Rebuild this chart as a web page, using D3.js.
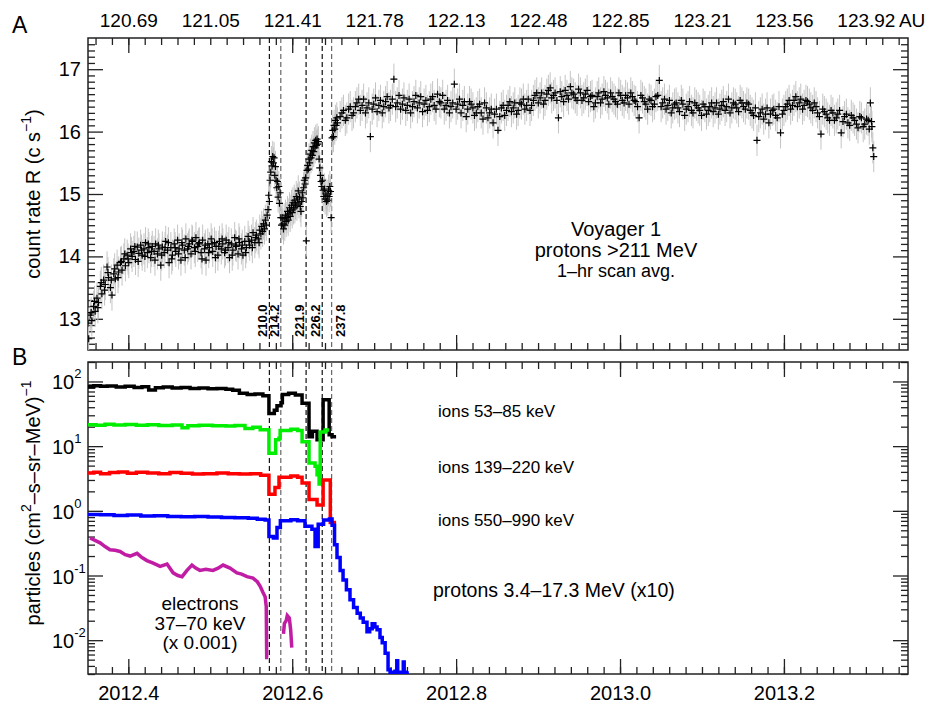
<!DOCTYPE html>
<html>
<head>
<meta charset="utf-8">
<script src="https://cdn.jsdelivr.net/npm/d3@7"></script>
<style>
  body { margin: 0; background: #fff; }
  text { font-family: "Liberation Sans", Arial, Helvetica, sans-serif; fill: #000; }
</style>
</head>
<body>
<svg width="928" height="706"></svg>
<script>
// ---- data (days counted from 2012 Jan 0) ----
const rateData = [
  [128.4,12.93],[128.7,12.68],[129.4,13.06],[130.1,12.97],[130.9,13.20],[131.6,13.12],[132.4,13.33],[133.1,13.26],
  [133.9,13.52],[134.6,13.40],[135.4,13.62],[136.1,13.55],[136.9,13.83],[137.6,13.66],[138.4,13.50],[139.1,13.38],
  [139.9,13.72],[140.6,13.64],[141.4,13.86],[142.1,13.75],[142.9,13.90],[143.6,13.78],[144.4,13.96],[145.1,13.85],
  [145.9,14.02],[146.6,13.90],[147.4,14.12],[148.1,14.00],[148.9,14.08],[149.6,13.95],[150.4,14.15],[151.1,14.05],
  [151.9,14.18],[152.6,14.02],[153.4,14.12],[154.1,14.22],[154.9,14.06],[155.6,14.14],[156.4,13.98],[157.1,14.16],
  [157.9,14.08],[158.6,14.20],[159.4,14.04],[160.1,14.12],[160.9,13.86],[161.6,14.15],[162.4,14.06],[163.1,14.24],
  [163.9,14.10],[164.6,13.90],[165.4,14.14],[166.1,14.02],[166.9,14.20],[167.6,14.08],[168.4,14.26],[169.1,14.12],
  [169.9,13.94],[170.6,14.18],[171.4,14.10],[172.1,14.28],[172.9,14.12],[173.6,14.20],[174.4,14.04],[175.1,14.24],
  [175.9,14.14],[176.6,14.30],[177.4,14.16],[178.1,14.22],[178.9,14.06],[179.6,14.26],[180.4,14.12],[181.1,13.94],
  [181.9,14.20],[182.6,14.14],[183.4,14.28],[184.1,14.08],[184.9,14.22],[185.6,14.16],[186.4,14.02],[187.1,14.24],
  [187.9,14.12],[188.6,14.20],[189.4,14.06],[190.1,14.26],[190.9,14.14],[191.6,13.98],[192.4,14.20],[193.1,14.10],
  [193.9,14.30],[194.6,14.16],[195.4,14.04],[196.1,14.22],[196.9,14.12],[197.6,14.02],[198.4,14.24],[199.1,14.14],
  [199.9,14.32],[200.6,14.18],[201.4,14.26],[202.1,14.38],[202.9,14.22],[203.6,14.34],[204.4,14.28],[205.1,14.42],
  [205.6,14.36],[206.0,14.48],[206.4,14.40],[206.8,14.52],[207.2,14.44],[207.6,14.58],[208.0,14.50],[208.4,14.66],
  [208.8,14.75],[209.1,14.98],[209.4,14.88],[209.7,15.22],[210.0,15.35],[210.3,15.52],[210.6,15.45],[210.9,15.60],
  [211.2,15.50],[211.5,15.58],[211.8,15.30],[212.1,15.44],[212.4,15.22],[212.7,15.10],[213.0,15.20],[213.3,14.95],
  [213.6,15.12],[213.9,14.85],[214.2,15.02],[214.5,14.62],[214.8,14.50],[215.1,14.62],[215.4,14.52],[215.7,14.44],
  [216.0,14.60],[216.3,14.50],[216.6,14.66],[216.9,14.56],[217.2,14.62],[217.5,14.72],[217.8,14.58],[218.1,14.68],
  [218.4,14.78],[218.7,14.64],[219.0,14.74],[219.3,14.82],[219.6,14.70],[219.9,14.86],[220.2,14.76],[220.5,14.90],
  [220.8,14.78],[221.1,14.84],[221.4,14.96],[221.7,14.82],[222.0,14.92],[222.3,15.05],[222.6,14.86],[222.9,14.95],
  [223.2,14.80],[223.5,14.72],[223.8,14.88],[224.1,15.02],[224.4,14.94],[224.7,15.10],[225.0,15.22],[225.3,15.16],
  [225.6,15.26],[225.9,14.25],[226.2,15.38],[226.5,15.46],[226.8,15.40],[227.1,15.56],[227.4,15.50],[227.7,15.64],
  [228.0,15.58],[228.3,15.70],[228.6,15.62],[228.9,15.76],[229.2,15.68],[229.5,15.82],[229.8,15.74],[230.1,15.86],
  [230.4,15.78],[230.7,15.88],[231.0,15.80],[231.3,15.84],[231.6,15.56],[231.9,15.42],[232.2,15.30],[232.5,15.20],
  [232.8,15.12],[233.1,15.22],[233.4,15.06],[233.7,14.96],[234.0,15.08],[234.3,14.92],[234.6,15.00],[234.9,14.88],
  [235.2,14.98],[235.5,14.90],[235.8,15.06],[236.1,14.96],[236.4,15.12],[236.7,15.04],[237.0,14.62],[237.4,15.90],
  [237.7,16.02],[238.0,15.92],[238.3,16.10],[238.6,16.04],[238.9,16.18],[239.2,16.10],[239.5,16.22],[239.8,16.14],
  [241.0,16.24],[242.5,16.34],[244.0,16.22],[245.5,16.40],[247.0,16.30],[248.5,16.46],[250.0,16.34],[251.5,16.52],
  [253.0,16.38],[254.5,15.92],[256.0,16.44],[257.5,16.32],[259.0,16.50],[260.5,16.40],[262.0,16.56],[263.5,16.42],
  [265.0,16.84],[266.5,16.46],[268.0,16.36],[269.5,16.54],[271.0,16.42],[272.5,16.30],[274.0,16.48],[275.5,16.38],
  [277.0,16.56],[278.5,16.44],[280.0,16.34],[281.5,16.52],[283.0,16.42],[284.5,16.60],[286.0,16.46],[287.5,16.36],
  [289.0,16.50],[290.5,16.40],[292.0,16.76],[293.5,16.44],[295.0,16.30],[296.5,16.48],[298.0,16.36],[299.5,16.44],
  [301.0,16.26],[302.5,16.40],[304.0,16.30],[305.5,16.46],[307.0,16.22],[308.5,16.36],[310.0,16.28],[311.5,16.02],
  [313.0,16.38],[314.5,16.26],[316.0,16.42],[317.5,16.32],[319.0,16.46],[320.5,16.34],[322.0,16.44],[323.5,16.36],
  [325.0,16.52],[326.5,16.42],[328.0,16.58],[329.5,16.46],[331.0,16.62],[332.5,16.50],[334.0,16.66],[335.5,16.54],
  [337.0,16.62],[338.5,16.22],[340.0,16.56],[341.5,16.66],[343.0,16.52],[344.5,16.62],[346.0,16.54],[347.5,16.68],
  [349.0,16.50],[350.5,16.60],[352.0,16.48],[353.5,16.58],[355.0,16.46],[356.5,16.62],[358.0,16.52],[359.5,16.58],
  [361.0,16.44],[362.5,16.56],[364.0,16.48],[365.5,16.62],[367.0,16.50],[368.5,16.58],[370.0,16.44],[371.5,16.56],
  [373.0,16.48],[374.5,16.22],[376.0,16.54],[377.5,16.44],[379.0,16.52],[380.5,16.40],[382.0,16.56],[383.5,16.82],
  [385.0,16.46],[386.5,16.36],[388.0,16.50],[389.5,16.38],[391.0,16.46],[392.5,16.32],[394.0,16.44],[395.5,16.36],
  [397.0,16.48],[398.5,16.30],[400.0,16.42],[401.5,16.34],[403.0,16.44],[404.5,16.28],[406.0,16.40],[407.5,16.32],
  [409.0,16.46],[410.5,16.36],[412.0,16.48],[413.5,16.40],[415.0,16.30],[416.5,16.46],[418.0,16.38],[419.5,16.50],
  [421.0,16.40],[422.5,16.46],[424.0,16.34],[425.5,16.26],[427.0,15.86],[428.5,16.30],[430.0,16.20],[431.5,16.38],
  [433.0,16.28],[434.5,16.36],[436.0,16.22],[437.5,15.98],[439.0,16.34],[440.5,16.44],[442.0,16.36],[443.5,16.50],
  [445.0,16.40],[446.5,16.52],[448.0,16.42],[449.5,16.48],[451.0,16.38],[452.5,16.46],[454.0,16.30],[455.5,15.96],
  [457.0,16.32],[458.5,16.22],[460.0,16.34],[461.5,16.18],[463.0,16.28],[464.5,15.98],[466.0,16.24],[467.5,16.14],
  [469.0,16.26],[470.5,16.18],[472.0,16.06],[473.5,16.22],[475.0,16.12],[476.5,16.18],[477.5,16.46],[478.2,16.08],
  [478.6,15.74],[479.0,15.60],
  // interleaved scans
  [129.8,13.10],[131.3,13.28],[132.8,13.18],[134.3,13.58],[135.8,13.46],[137.3,13.74],[138.8,13.62],[140.3,13.80],
  [141.8,13.66],[143.3,13.92],[144.8,14.04],[146.3,13.96],[147.8,14.06],[149.3,14.16],[150.8,13.92],[152.3,14.10],
  [153.8,14.00],[155.3,14.20],[156.8,14.08],[158.3,13.94],[159.8,14.18],[161.3,14.02],[162.8,14.14],[164.3,14.22],
  [165.8,13.96],[167.3,14.14],[168.8,14.04],[170.3,14.22],[171.8,13.98],[173.3,14.16],[174.8,14.26],[176.3,14.08],
  [177.8,14.20],[179.3,13.96],[180.8,14.18],[182.3,14.06],[183.8,14.20],[185.3,13.98],[186.8,14.16],[188.3,14.28],
  [189.8,14.10],[191.3,14.22],[192.8,14.02],[194.3,14.18],[195.8,14.28],[197.3,14.18],[198.8,14.06],[200.3,14.24],
  [201.8,14.14],[203.3,14.30],[204.8,14.22],
  [241.8,16.30],[243.3,16.18],[244.8,16.36],[246.3,16.26],[247.8,16.40],[249.3,16.52],[250.8,16.42],[252.3,16.30],
  [253.8,16.46],[255.3,16.36],[256.8,16.54],[258.3,16.42],[259.8,16.30],[261.3,16.48],[262.8,16.38],[264.3,16.52],
  [265.8,16.40],[267.3,16.58],[268.8,16.44],[270.3,16.34],[271.8,16.52],[273.3,16.40],[274.8,16.58],[276.3,16.46],
  [277.8,16.32],[279.3,16.50],[280.8,16.40],[282.3,16.56],[283.8,16.36],[285.3,16.48],[286.8,16.58],[288.3,16.42],
  [289.8,16.30],[291.3,16.46],[292.8,16.36],[294.3,16.52],[295.8,16.42],[297.3,16.24],[298.8,16.48],[300.3,16.38],
  [301.8,16.30],[303.3,16.44],[304.8,16.20],[306.3,16.38],[307.8,16.30],[309.3,16.14],[310.8,16.36],[312.3,16.24],
  [313.8,16.42],[315.3,16.34],[316.8,16.48],[318.3,16.38],[319.8,16.28],[321.3,16.46],[322.8,16.52],[324.3,16.42],
  [325.8,16.34],[327.3,16.50],[328.8,16.62],[330.3,16.54],[331.8,16.44],[333.3,16.60],[334.8,16.70],[336.3,16.58],
  [337.8,16.50],[339.3,16.64],[340.8,16.48],[342.3,16.58],[343.8,16.72],[345.3,16.60],[346.8,16.50],[348.3,16.62],
  [349.8,16.54],[351.3,16.66],[352.8,16.56],[354.3,16.40],[355.8,16.56],[357.3,16.46],[358.8,16.64],[360.3,16.54],
  [361.8,16.62],[363.3,16.52],[364.8,16.44],[366.3,16.58],[367.8,16.46],[369.3,16.54],[370.8,16.62],[372.3,16.50],
  [373.8,16.40],[375.3,16.58],[376.8,16.48],[378.3,16.36],[379.8,16.50],[381.3,16.44],[382.8,16.58],[384.3,16.40],
  [385.8,16.52],[387.3,16.42],[388.8,16.30],[390.3,16.44],[391.8,16.38],[393.3,16.50],[394.8,16.26],[396.3,16.40],
  [397.8,16.34],[399.3,16.46],[400.8,16.38],[402.3,16.26],[403.8,16.40],[405.3,16.34],[406.8,16.46],[408.3,16.38],
  [409.8,16.28],[411.3,16.42],[412.8,16.34],[414.3,16.52],[415.8,16.38],[417.3,16.44],[418.8,16.32],[420.3,16.46],
  [421.8,16.36],[423.3,16.44],[424.8,16.30],[426.3,16.38],[427.8,16.24],[429.3,16.36],[430.8,16.28],[432.3,16.14],
  [433.8,16.34],[435.3,16.26],[436.8,16.40],[438.3,16.28],[439.8,16.40],[441.3,16.50],[442.8,16.42],[444.3,16.56],
  [445.8,16.46],[447.3,16.36],[448.8,16.50],[450.3,16.44],[451.8,16.34],[453.3,16.40],[454.8,16.24],[456.3,16.36],
  [457.8,16.28],[459.3,16.18],[460.8,16.30],[462.3,16.22],[463.8,16.34],[465.3,16.16],[466.8,16.28],[468.3,16.10],
  [469.8,16.22],[471.3,16.12],[472.8,16.24],[474.3,16.08],[475.8,16.20],[477.0,16.04],[478.0,16.16]
];
const rateErr = 0.25;

const eventDays = [209.4, 214.5, 225.8, 233.0, 237.2];
const eventLabels = ["210.0", "214.2", "221.9", "226.2", "237.8"];

const yearTicks = [2012.4, 2012.6, 2012.8, 2013.0, 2013.2];
const auTicks = [2012.4, 2012.5, 2012.6, 2012.7, 2012.8, 2012.9, 2013.0, 2013.1, 2013.2, 2013.3];
const auLabels = ["120.69", "121.05", "121.41", "121.78", "122.13", "122.48", "122.85", "123.21", "123.56", "123.92"];
const rateTicks = [13, 14, 15, 16, 17];
const fluxTicks = [0.01, 0.1, 1, 10, 100];
const fluxExponents = ["-2", "-1", "0", "1", "2"];

const ions53 = [[128.4,83],[131,86],[134,84],[137,85],[141,82],[145,84],[149,81],[152.5,83],[155.5,74],[158.5,80],
  [162,82],[166,79],[170,81],[174,78],[178,79],[182,77],[186,78],[190,76],[193,73],[196,66],[199.5,63],[203,64],
  [206.5,60],[209.2,32],[211.6,36],[212.8,42],[214.6,47],[215.2,63],[218,66],[221,62],[224.0,46],[227.1,14],
  [228.6,17],[230.7,12.6],[233.4,52],[236.1,15],[237.4,14],[239.2,14]];
const ions139 = [[128.4,21.5],[132,21],[136,21.8],[140,21.2],[145,21.6],[150,21],[155,21.4],[160,20.8],[166,21.2],
  [170.4,19.2],[173,20.6],[178,21],[184,20.6],[190,20.4],[194,20.8],[198.5,18.8],[202,19.6],[205.3,18],[209.2,7.8],
  [212.2,12.6],[213.7,13.2],[214.2,17.5],[219,18.2],[222,17.4],[224.0,11.7],[227.1,5.5],[229.8,4.9],[230.7,3.6],
  [231.6,2.6],[232.1,16.6],[234.3,17.8],[236.1,17.8]];
const ions550 = [[128.4,3.85],[131,3.95],[134,3.75],[138,3.9],[142,4.0],[146,3.8],[150,3.95],[155,3.85],[160,3.75],
  [165,3.9],[170,3.8],[175,3.7],[180,3.75],[186,3.85],[191,3.75],[196,3.7],[201,3.75],[205.5,3.55],[209.2,1.8],
  [211.9,2.3],[213.7,3.3],[219,3.45],[222,3.3],[224.0,2.7],[227.1,1.5],[230.7,1.23],[233.4,3.0],[236.1,3.0],
  [236.6,0.66],[239.2,0.66]];
const protons = [[128.4,0.88],[134,0.87],[140,0.85],[146,0.86],[152,0.83],[158,0.84],[164,0.82],[170,0.81],[176,0.82],
  [182,0.80],[188,0.79],[194,0.78],[200,0.77],[204,0.74],[207.5,0.72],[209.2,0.40],[211.2,0.38],[212.8,0.55],
  [214.3,0.70],[219,0.73],[222,0.70],[225.3,0.58],[228.4,0.52],[229.8,0.28],[231.2,0.62],[233.6,0.72],[236.2,0.75],
  [237.4,0.60],[238.5,0.30],[239.6,0.19],[241,0.12],[242.3,0.085],[243.8,0.06],[245.4,0.042],[247,0.032],
  [248.6,0.026],[250,0.022],[251.3,0.019],[253.0,0.0135],[254.2,0.015],[255.3,0.018],[256.5,0.016],[257.5,0.0145],
  [258.8,0.011],[259.8,0.0091],[261.1,0.0063],[262.4,0.0035],[263.3,0.0032],[265.5,0.0033],[266.3,0.0048],
  [266.7,0.0032],[268.9,0.0031],[269.2,0.0046],[269.6,0.0032],[270.9,0.0033]];
const electrons = [[129.3,0.38],[131.5,0.35],[133.8,0.32],[136,0.28],[138.2,0.25],[140.5,0.245],[142.7,0.235],
  [145,0.21],[147.2,0.20],[150.3,0.22],[152.5,0.19],[154.7,0.17],[157.5,0.155],[160.6,0.138],[163.7,0.15],
  [166.4,0.11],[168.5,0.10],[170.4,0.096],[172.6,0.12],[174.8,0.145],[176.5,0.13],[178.4,0.12],[181,0.125],
  [184.2,0.12],[186.5,0.13],[188.7,0.145],[191.8,0.13],[194.9,0.11],[197,0.105],[199.4,0.096],[202.1,0.091],
  [204,0.08],[205.3,0.068],[206.5,0.055],[207.5,0.047],[208.0,0.033],[208.2,0.0054],[208.8,0.0054],[212,null],
  [215.7,0.0125],[216.1,0.018],[216.9,0.020],[217.4,0.024],[218.3,0.022],[218.9,0.0145],[219.4,0.0077]];

const fluxSeries = [
  {name: "ions 53–85 keV", data: ions53, color: "#000000"},
  {name: "ions 139–220 keV", data: ions139, color: "#00ee00"},
  {name: "ions 550–990 keV", data: ions550, color: "#ff0000"},
  {name: "protons 3.4–17.3 MeV (x10)", data: protons, color: "#0000ff"}
];

// ---- layout ----
const svg = d3.select("svg");
const left = 88, right = 908;
const aTop = 38, aBot = 350, bTop = 362, bBot = 674;

const dayToYear = d => d <= 366 ? 2012 + d / 366 : 2013 + (d - 366) / 365;

const x = d3.scaleLinear().domain([2012.3508, 2013.3514]).range([left, right]);
const yA = d3.scaleLinear().domain([12.5, 17.5]).range([aBot, aTop]);
const yB = d3.scaleLog().domain([0.003, 200]).range([bBot, bTop]);

const minorYears = d3.range(2012.36, 2013.35, 0.02);
const axisCol = "#222";

function styleAxis(g) {
  g.select(".domain").remove();
  g.selectAll("line").attr("stroke", axisCol).attr("stroke-width", 1.3);
}

// x ticks on every horizontal edge, pointing inward
[[aTop, d3.axisTop], [aBot, d3.axisBottom], [bTop, d3.axisTop], [bBot, d3.axisBottom]].forEach(([yy, ax]) => {
  svg.append("g").attr("transform", `translate(0,${yy})`)
    .call(ax(x).tickValues(minorYears).tickSize(-7).tickFormat(""))
    .call(styleAxis);
  svg.append("g").attr("transform", `translate(0,${yy})`)
    .call(ax(x).tickValues(yearTicks).tickSize(-15).tickFormat(""))
    .call(styleAxis);
});

// top AU labels
svg.append("g").attr("transform", `translate(0,${aTop})`)
  .call(d3.axisTop(x).tickValues(auTicks).tickSize(0).tickPadding(11).tickFormat((d, i) => auLabels[i]))
  .call(styleAxis)
  .call(g => g.selectAll("text").attr("font-size", 19).attr("font-family", null));
svg.append("text").attr("x", x(2013.3) + 33).attr("y", aTop - 11).attr("font-size", 19).text("AU");

// bottom year labels
svg.append("g").attr("transform", `translate(0,${bBot})`)
  .call(d3.axisBottom(x).tickValues(yearTicks).tickSize(0).tickPadding(12).tickFormat(d3.format(".1f")))
  .call(styleAxis)
  .call(g => g.selectAll("text").attr("font-size", 20).attr("font-family", null));

// panel A y ticks
const rateMinor = d3.range(12.6, 17.45, 0.1).filter(v => Math.abs(v - Math.round(v)) > 0.01);
[[left, d3.axisLeft], [right, d3.axisRight]].forEach(([xx, ax]) => {
  svg.append("g").attr("transform", `translate(${xx},0)`)
    .call(ax(yA).tickValues(rateMinor).tickSize(-7).tickFormat(""))
    .call(styleAxis);
  svg.append("g").attr("transform", `translate(${xx},0)`)
    .call(ax(yA).tickValues(rateTicks).tickSize(-15).tickFormat(""))
    .call(styleAxis);
});
svg.append("g").attr("transform", `translate(${left},0)`)
  .call(d3.axisLeft(yA).tickValues(rateTicks).tickSize(0).tickPadding(7).tickFormat(d3.format("d")))
  .call(styleAxis)
  .call(g => g.selectAll("text").attr("font-size", 20).attr("font-family", null));

// panel B y ticks (log)
const fluxMinor = yB.ticks().filter(v => !fluxTicks.some(t => Math.abs(t - v) / t < 1e-6));
[[left, d3.axisLeft], [right, d3.axisRight]].forEach(([xx, ax]) => {
  svg.append("g").attr("transform", `translate(${xx},0)`)
    .call(ax(yB).tickValues(fluxMinor).tickSize(-7).tickFormat(""))
    .call(styleAxis);
  svg.append("g").attr("transform", `translate(${xx},0)`)
    .call(ax(yB).tickValues(fluxTicks).tickSize(-15).tickFormat(""))
    .call(styleAxis);
});
fluxTicks.forEach((v, i) => {
  const t = svg.append("text").attr("x", 52).attr("y", yB(v) + 8).attr("font-size", 20);
  t.append("tspan").text("10");
  t.append("tspan").attr("font-size", 13).attr("dy", -11).text(fluxExponents[i]);
});

// frames
[[aTop, aBot], [bTop, bBot]].forEach(([t, b]) => {
  svg.append("rect").attr("x", left).attr("y", t).attr("width", right - left).attr("height", b - t)
    .attr("fill", "none").attr("stroke", axisCol).attr("stroke-width", 1.5);
});

// clip paths
const defs = svg.append("defs");
defs.append("clipPath").attr("id", "clipA").append("rect")
  .attr("x", left).attr("y", aTop).attr("width", right - left).attr("height", aBot - aTop);
defs.append("clipPath").attr("id", "clipB").append("rect")
  .attr("x", left).attr("y", bTop).attr("width", right - left).attr("height", bBot - bTop);

// event lines
const eventStroke = ["#111", "#666", "#111", "#111", "#666"];
eventDays.forEach((d, i) => {
  const xx = x(dayToYear(d));
  [[aTop, aBot], [bTop, bBot]].forEach(([t, b]) => {
    svg.append("line").attr("x1", xx).attr("x2", xx).attr("y1", t).attr("y2", b)
      .attr("stroke", eventStroke[i]).attr("stroke-width", 1.2).attr("stroke-dasharray", "5,3");
  });
  const lx = i === eventDays.length - 1 ? xx + 13 : xx - 2;
  svg.append("text").attr("transform", `translate(${lx},337) rotate(-90)`)
    .attr("font-size", 13).attr("font-weight", "bold").text(eventLabels[i]);
});

// panel A: error bars and crosses
const gA = svg.append("g").attr("clip-path", "url(#clipA)");
gA.selectAll("line.err").data(rateData).join("line").attr("class", "err")
  .attr("x1", d => x(dayToYear(d[0]))).attr("x2", d => x(dayToYear(d[0])))
  .attr("y1", d => yA(d[1] - rateErr)).attr("y2", d => yA(d[1] + rateErr))
  .attr("stroke", "#c4c4c4").attr("stroke-width", 1);
gA.selectAll("path.pt").data(rateData).join("path").attr("class", "pt")
  .attr("transform", d => `translate(${x(dayToYear(d[0]))},${yA(d[1])})`)
  .attr("d", "M-3.5,0H3.5M0,-3.5V3.5")
  .attr("stroke", "#000").attr("stroke-width", 1.2);

// panel B: flux lines
const gB = svg.append("g").attr("clip-path", "url(#clipB)");
const stepLine = d3.line().curve(d3.curveStepAfter)
  .x(d => x(dayToYear(d[0]))).y(d => yB(d[1]));
fluxSeries.forEach(s => {
  gB.append("path").datum(s.data).attr("d", stepLine)
    .attr("fill", "none").attr("stroke", s.color).attr("stroke-width", 3.5);
});
const eLine = d3.line().defined(d => d[1] != null)
  .x(d => x(dayToYear(d[0]))).y(d => yB(d[1]));
gB.append("path").datum(electrons).attr("d", eLine)
  .attr("fill", "none").attr("stroke", "#c01ca4").attr("stroke-width", 3.5);

// labels panel B
const labelY = [417, 473, 526, 597];
fluxSeries.forEach((s, i) => {
  svg.append("text").attr("x", i === 3 ? 433 : 438).attr("y", labelY[i])
    .attr("font-size", i === 3 ? 19.5 : 17).text(s.name);
});
[["electrons", 610], ["37–70 keV", 630], ["(x 0.001)", 649]].forEach(([t, yy]) => {
  svg.append("text").attr("x", 200).attr("y", yy).attr("text-anchor", "middle").attr("font-size", 19).text(t);
});

// annotation panel A
[["Voyager 1", 236, 20], ["protons >211 MeV", 257, 20], ["1–hr scan avg.", 277, 18]].forEach(([t, yy, fs]) => {
  svg.append("text").attr("x", 616).attr("y", yy).attr("text-anchor", "middle").attr("font-size", fs).text(t);
});

// axis titles
const ta = svg.append("text").attr("transform", `translate(40,194) rotate(-90)`)
  .attr("text-anchor", "middle").attr("font-size", 20);
ta.append("tspan").text("count rate R (c s");
ta.append("tspan").attr("font-size", 14).attr("dy", -9).text("−1");
ta.append("tspan").attr("dy", 9).text(")");

const tb = svg.append("text").attr("transform", `translate(40,503) rotate(-90)`)
  .attr("text-anchor", "middle").attr("font-size", 20);
tb.append("tspan").text("particles (cm");
tb.append("tspan").attr("font-size", 14).attr("dy", -9).text("2");
tb.append("tspan").attr("dy", 9).text("–s–sr–MeV)");
tb.append("tspan").attr("font-size", 14).attr("dy", -9).text("−1");

// panel letters
svg.append("text").attr("x", 12).attr("y", 33).attr("font-size", 23).text("A");
svg.append("text").attr("x", 12).attr("y", 365).attr("font-size", 23).text("B");
</script>
</body>
</html>
